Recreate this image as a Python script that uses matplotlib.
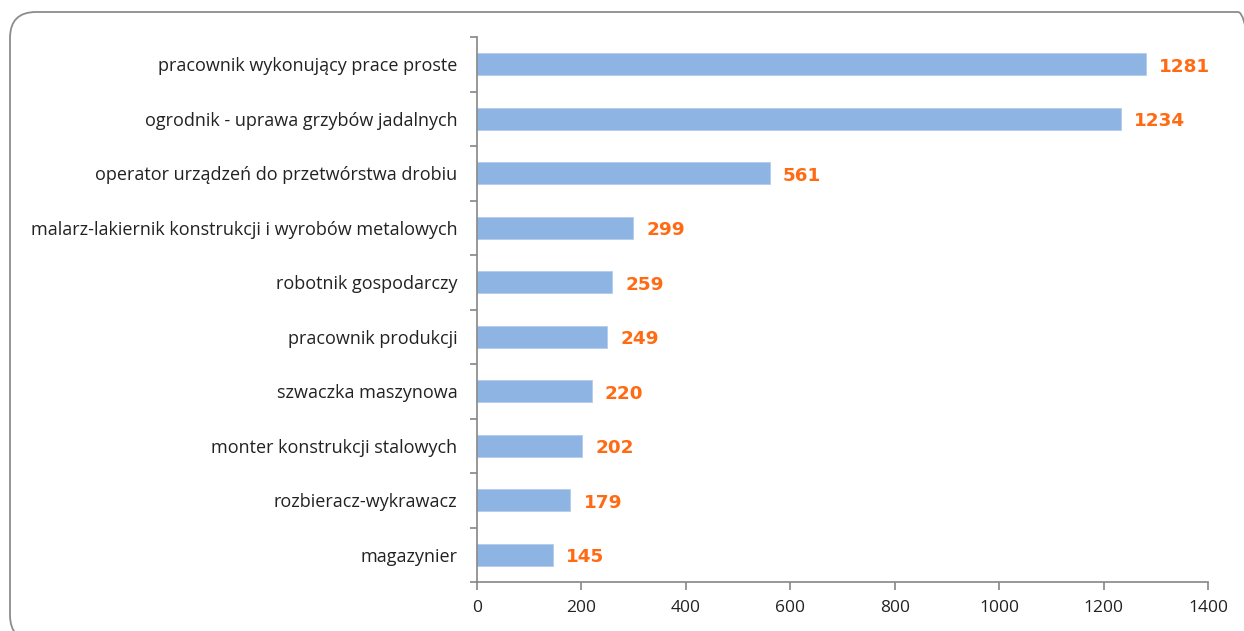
import matplotlib
matplotlib.use('Agg')
import matplotlib.pyplot as plt
from matplotlib.patches import FancyBboxPatch

# data
occupations = ['pracownik wykonujący prace proste',
               'ogrodnik - uprawa grzybów jadalnych',
               'operator urządzeń do przetwórstwa drobiu',
               'malarz-lakiernik konstrukcji i wyrobów metalowych',
               'robotnik gospodarczy',
               'pracownik produkcji',
               'szwaczka maszynowa',
               'monter konstrukcji stalowych',
               'rozbieracz-wykrawacz',
               'magazynier']
counts = [1281, 1234, 561, 299, 259, 249, 220, 202, 179, 145]
x_ticks = [0, 200, 400, 600, 800, 1000, 1200, 1400]


def main():
    plt.rcParams['font.family'] = ['Open Sans', 'DejaVu Sans']
    fig = plt.figure(figsize=(12.44, 6.31), dpi=100)
    ax = fig.add_axes([477 / 1244, 1 - 582 / 631, (1208 - 477) / 1244, (582 - 37) / 631])

    axis_grey = '#868686'

    # rounded frame around the chart area, in pixels (runs past the right and bottom edges)
    frame = FancyBboxPatch((10, -10), 1254, 631 - 12 + 10, boxstyle='round,pad=0,rounding_size=26',
                           transform=None, facecolor='none', edgecolor='#8c8c8c', linewidth=1.3)
    fig.add_artist(frame)

    n = len(occupations)
    ypos = list(range(n))
    ax.barh(ypos, counts, height=0.4, color='#8EB4E3', edgecolor='#B3CDEB', linewidth=0.6)

    for y, v in zip(ypos, counts):
        ax.text(v + 25, y + 0.05, str(v), va='center', ha='left', color='#FF6A13',
                fontsize=13.2, fontweight='bold', family='DejaVu Sans')

    ax.set_ylim(n - 0.5, -0.5)
    ax.set_xlim(0, 1400)
    ax.set_xticks(x_ticks)
    ax.set_xticklabels([str(t) for t in x_ticks])

    # category labels between boundary ticks
    ax.set_yticks(ypos)
    ax.set_yticklabels(occupations)
    ax.set_yticks([i - 0.5 for i in range(n + 1)], minor=True)
    ax.tick_params(axis='y', which='major', length=0, pad=14, labelsize=13, labelcolor='#222222')
    ax.tick_params(axis='y', which='minor', length=5, width=1.2, color=axis_grey, direction='out')
    ax.tick_params(axis='x', which='major', length=6, width=1.2, color=axis_grey, pad=7,
                   labelsize=12.5, labelcolor='#222222')

    for side in ['top', 'right']:
        ax.spines[side].set_visible(False)
    for side in ['left', 'bottom']:
        ax.spines[side].set_color(axis_grey)
        ax.spines[side].set_linewidth(1.2)

    fig.savefig('out.png', dpi=100)


if __name__ == "__main__":
    main()
